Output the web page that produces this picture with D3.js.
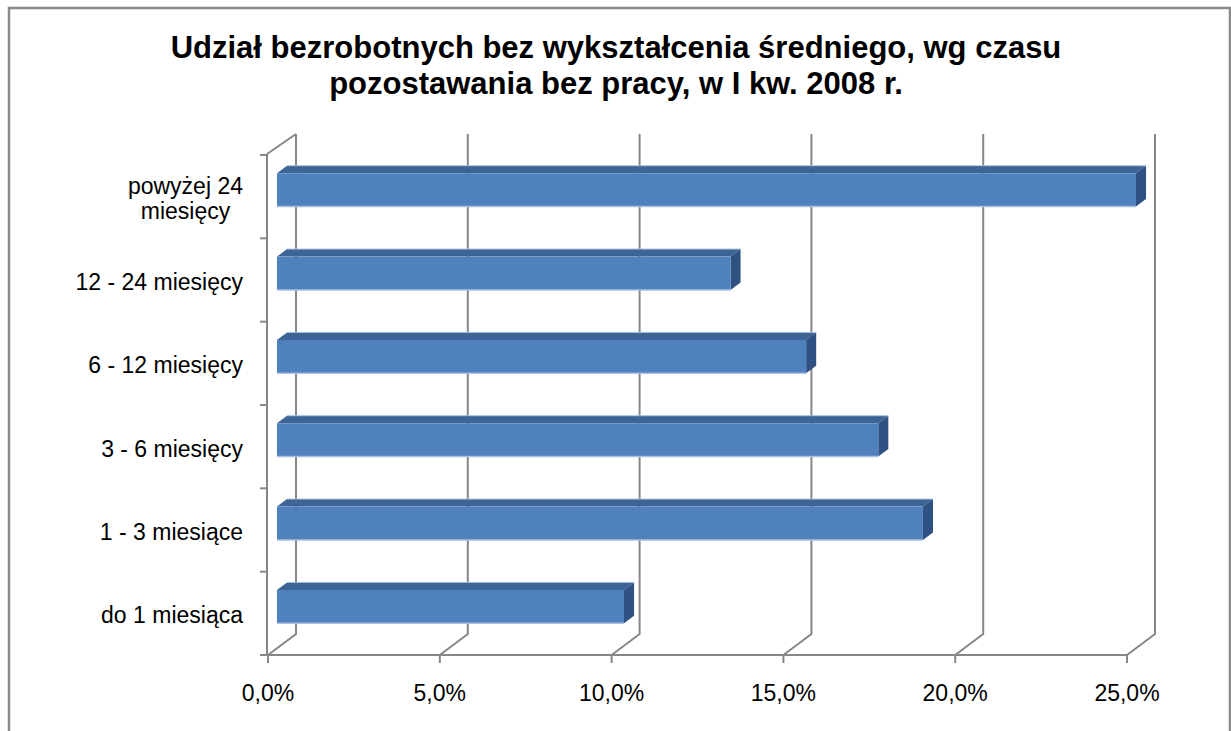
<!DOCTYPE html>
<html>
<head>
<meta charset="utf-8">
<script src="https://cdn.jsdelivr.net/npm/d3@7"></script>
<style>
  body { margin: 0; background: #fff; }
  text { font-family: "Liberation Sans", Arial, sans-serif; fill: #000; }
</style>
</head>
<body>
<script>
// categories top to bottom, values in percent
const categories = [
  ["powyżej 24", "miesięcy"],
  ["12 - 24 miesięcy"],
  ["6 - 12 miesięcy"],
  ["3 - 6 miesięcy"],
  ["1 - 3 miesiące"],
  ["do 1 miesiąca"]
];
const values = [25.0, 13.2, 15.4, 17.5, 18.8, 10.1];
const xTicks = [0, 5, 10, 15, 20, 25];
const titleLines = [
  "Udział bezrobotnych bez wykształcenia średniego, wg czasu",
  "pozostawania bez pracy, w I kw. 2008 r."
];

const width = 1231, height = 731;
const plot = { left: 268, right: 1127, top: 155, bottom: 655 };
const depth = { dx: 28, dy: -21 }; // 3d offset of the back wall
const barFront = 0.32, barBack = 0.68; // bar position in depth

const svg = d3
  .select("body")
  .append("svg")
  .attr("width", width)
  .attr("height", height);

svg
  .append("rect")
  .attr("x", 9)
  .attr("y", 8)
  .attr("width", 1221)
  .attr("height", 760)
  .attr("fill", "#fff")
  .attr("stroke", "#8a8a8a")
  .attr("stroke-width", 2.5);

const x = d3.scaleLinear().domain([0, 25]).range([plot.left, plot.right]);
const y = d3
  .scaleBand()
  .domain(d3.range(categories.length))
  .range([plot.top, plot.bottom]);

const gridColor = "#878787";

// floor diagonals + back wall gridlines
const grid = svg.append("g").attr("stroke", gridColor).attr("stroke-width", 2).attr("fill", "none");
xTicks.forEach((t) => {
  const x0 = x(t);
  grid
    .append("path")
    .attr("d", `M${x0},${plot.bottom}L${x0 + depth.dx},${plot.bottom + depth.dy}L${x0 + depth.dx},${plot.top + depth.dy}`);
});
// left wall top diagonal
grid
  .append("path")
  .attr("d", `M${plot.left - 1},${plot.top - 1}L${plot.left + depth.dx},${plot.top + depth.dy}`);

// front axis lines
const axes = svg.append("g").attr("stroke", gridColor).attr("stroke-width", 2).attr("fill", "none");
axes.append("path").attr("d", `M${plot.left - 1},${plot.top - 1}V${plot.bottom}H${plot.right}`);
d3.range(categories.length + 1).forEach((i) => {
  const yy = plot.top + i * y.step();
  axes.append("path").attr("d", `M${plot.left - 8},${yy}H${plot.left - 1}`);
});
xTicks.forEach((t) => {
  axes.append("path").attr("d", `M${x(t)},${plot.bottom}V${plot.bottom + 8}`);
});

// bars
const fx = barFront * depth.dx, fy = barFront * depth.dy;
const bx = (barBack - barFront) * depth.dx, by = (barBack - barFront) * depth.dy;
const barH = y.bandwidth() * 0.4;

const bars = svg
  .selectAll(".bar")
  .data(values)
  .enter()
  .append("g")
  .attr("class", "bar");

bars.each(function (v, i) {
  const g = d3.select(this);
  const x0 = x(0) + fx, x1 = x(v) + fx;
  const cy = y(i) + y.bandwidth() / 2 + fy;
  const y0 = cy - barH / 2, y1 = cy + barH / 2;
  // top face
  g.append("path")
    .attr("d", `M${x0},${y0}L${x0 + bx},${y0 + by}L${x1 + bx},${y0 + by}L${x1},${y0}Z`)
    .attr("fill", "#3c6596");
  // side face
  g.append("path")
    .attr("d", `M${x1},${y0}L${x1 + bx},${y0 + by}L${x1 + bx},${y1 + by}L${x1},${y1}Z`)
    .attr("fill", "#2f5282");
  // front face
  g.append("rect")
    .attr("x", x0)
    .attr("y", y0)
    .attr("width", x1 - x0)
    .attr("height", barH)
    .attr("fill", "#4f81bd");
  // light edges
  g.append("path")
    .attr("d", `M${x0},${y1}H${x1}`)
    .attr("stroke", "#a9c0de")
    .attr("stroke-width", 1.5);
  g.append("path")
    .attr("d", `M${x0 + bx},${y0 + by}H${x1 + bx}`)
    .attr("stroke", "#a9c0de")
    .attr("stroke-width", 1);
});

// category labels
categories.forEach((lines, i) => {
  const cy = y(i) + y.bandwidth() / 2 + 2;
  const t = svg
    .append("text")
    .attr("text-anchor", "middle")
    .style("font-size", "23px");
  const lh = 25;
  lines.forEach((l, j) => {
    t.append("tspan")
      .attr("y", cy + (j - (lines.length - 1) / 2) * lh)
      .attr("dy", "0.35em")
      .text(l);
  });
  let w = 0;
  t.selectAll("tspan").each(function () {
    w = Math.max(w, this.getComputedTextLength());
  });
  t.selectAll("tspan").attr("x", 243 - w / 2);
});

// x tick labels
svg
  .selectAll(".xtick")
  .data(xTicks)
  .enter()
  .append("text")
  .attr("class", "xtick")
  .attr("x", (d) => x(d))
  .attr("y", 701)
  .attr("text-anchor", "middle")
  .style("font-size", "23px")
  .text((d) => d.toFixed(1).replace(".", ",") + "%");

// title
svg
  .selectAll(".title")
  .data(titleLines)
  .enter()
  .append("text")
  .attr("class", "title")
  .attr("x", 616)
  .attr("y", (d, i) => 58 + i * 36)
  .attr("text-anchor", "middle")
  .style("font-size", "31px")
  .style("font-weight", "bold")
  .text((d) => d);
</script>
</body>
</html>
